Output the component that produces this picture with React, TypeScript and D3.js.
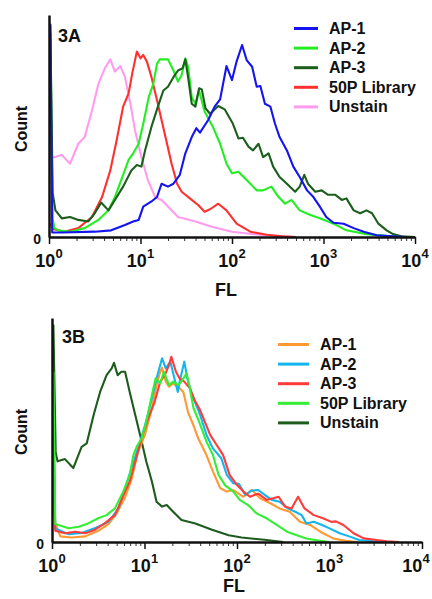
import React, { useEffect, useRef } from 'react';
import * as d3 from 'd3';

// every point is [log10(FL), count], count read on a 0-100 scale of the axis height
const decades = [0, 1, 2, 3, 4];
const legendNames = ['AP-1', 'AP-2', 'AP-3', '50P Library', 'Unstain'];

// ---- 3A ----
const aColors = ['#1414f0', '#22ee22', '#1c5e1c', '#ff3030', '#ff9cf0'];
const aAP1: [number, number][] = [
  [0.015, 96], [0.035, 2], [0.14, 2], [0.5, 2.4], [0.68, 3], [0.83, 5.4], [0.92, 7], [0.98, 7.7], [1.03, 13.7],
  [1.12, 16], [1.18, 18], [1.23, 24], [1.3, 22.7], [1.36, 24], [1.43, 28], [1.49, 37.7], [1.56, 45], [1.61, 49],
  [1.65, 47], [1.74, 52.7], [1.81, 58.7], [1.87, 62], [1.94, 77], [2.0, 70.7], [2.05, 79], [2.11, 86.5],
  [2.16, 79.7], [2.22, 76.7], [2.27, 67.7], [2.31, 68], [2.36, 60], [2.42, 58.7], [2.47, 51], [2.52, 45],
  [2.6, 39], [2.67, 31.7], [2.74, 27], [2.82, 21], [2.89, 18], [2.96, 13.7], [3.03, 9], [3.11, 6.4], [3.22, 6],
  [3.33, 4], [3.44, 2.4], [3.58, 0.8], [3.76, 0.3], [3.9, 0],
];
const aAP2: [number, number][] = [
  [0.015, 95], [0.04, 8], [0.06, 4], [0.1, 3], [0.23, 2.4], [0.39, 4], [0.54, 7.7], [0.65, 12], [0.72, 18],
  [0.79, 25.7], [0.87, 34.7], [0.92, 37.7], [0.98, 42], [1.03, 51], [1.09, 63], [1.14, 69], [1.18, 78], [1.21, 80],
  [1.3, 80], [1.36, 75], [1.41, 70], [1.45, 73], [1.49, 80.5], [1.52, 76.7], [1.56, 63], [1.6, 60], [1.64, 66],
  [1.7, 56.5], [1.79, 49.7], [1.87, 42], [1.94, 33], [2.0, 28.7], [2.07, 29.4], [2.16, 25.7], [2.27, 21],
  [2.34, 21], [2.43, 22.7], [2.51, 18], [2.58, 15], [2.65, 16.7], [2.74, 12], [2.85, 10], [2.96, 8.4], [3.11, 6],
  [3.25, 3], [3.47, 1.3], [3.69, 0.5], [3.9, 0],
];
const aAP3: [number, number][] = [
  [0.015, 92], [0.04, 20], [0.07, 12], [0.14, 8.4], [0.23, 9], [0.32, 7.7], [0.43, 7], [0.5, 10.7], [0.57, 15.5],
  [0.65, 12], [0.72, 16.7], [0.81, 22.7], [0.9, 30], [0.96, 32.4], [1.01, 31.7], [1.05, 39], [1.12, 49.7],
  [1.19, 58.7], [1.25, 66], [1.3, 67.7], [1.36, 72], [1.41, 75], [1.46, 76], [1.49, 80], [1.52, 72], [1.56, 60],
  [1.6, 58.7], [1.64, 67], [1.67, 66.5], [1.71, 58], [1.76, 55.5], [1.85, 59], [1.92, 57.5], [2.01, 51],
  [2.07, 44.4], [2.12, 44.7], [2.18, 40.7], [2.23, 39], [2.29, 42], [2.34, 36], [2.4, 37.7], [2.45, 31.7],
  [2.52, 27], [2.6, 24], [2.69, 20.4], [2.74, 22.7], [2.79, 28], [2.83, 24], [2.91, 20.4], [2.98, 21], [3.05, 19],
  [3.13, 19], [3.2, 16.7], [3.25, 17.4], [3.33, 12], [3.4, 10.7], [3.47, 12], [3.53, 10.7], [3.6, 6], [3.69, 3],
  [3.76, 1.3], [3.85, 0.3], [4.0, 0],
];
const a50P: [number, number][] = [
  [0.01, 6], [0.05, 3.5], [0.17, 2.4], [0.32, 4], [0.47, 9], [0.58, 18], [0.67, 30], [0.74, 43.7], [0.81, 58.7],
  [0.87, 64.7], [0.91, 73.7], [0.96, 83.5], [1.0, 80.5], [1.03, 82], [1.07, 79], [1.12, 72], [1.18, 61.7],
  [1.23, 52.7], [1.29, 42], [1.34, 33], [1.4, 24], [1.45, 20.4], [1.56, 16.7], [1.63, 14.4], [1.7, 11.4],
  [1.76, 12.5], [1.85, 15], [1.94, 12], [2.05, 6], [2.2, 2.4], [2.38, 1], [2.55, 0.3], [2.7, 0],
];
const aUnstain: [number, number][] = [
  [0.015, 60], [0.03, 36], [0.07, 36], [0.14, 37], [0.23, 33], [0.32, 42], [0.39, 45], [0.47, 57], [0.54, 69],
  [0.61, 76], [0.67, 80], [0.72, 74.5], [0.78, 77], [0.83, 72], [0.89, 60], [0.94, 48], [1.01, 36], [1.08, 25.7],
  [1.16, 18], [1.23, 16.7], [1.3, 13.7], [1.41, 9], [1.6, 7], [1.78, 4.6], [2.0, 2.4], [2.12, 1.8], [2.3, 1],
  [2.52, 0.4], [2.7, 0],
];

// ---- 3B ----
const bColors = ['#ff9933', '#13b6ec', '#ff3b3b', '#33ee33', '#1e5c1e'];
const bAP1: [number, number][] = [
  [0.015, 20], [0.03, 9], [0.09, 2.5], [0.21, 2], [0.36, 2.5], [0.5, 5], [0.61, 8], [0.7, 12.8], [0.79, 20],
  [0.86, 28], [0.93, 40.3], [1.005, 47.8], [1.08, 59.7], [1.13, 70], [1.17, 76], [1.19, 77.8], [1.23, 71.6],
  [1.265, 69.3], [1.31, 70.8], [1.365, 69.3], [1.42, 67], [1.47, 58], [1.53, 52], [1.58, 46.3], [1.67, 38.8],
  [1.74, 31.4], [1.82, 24], [1.89, 22.5], [1.96, 23.2], [2.07, 20.2], [2.16, 23.2], [2.25, 19.5], [2.36, 17.3],
  [2.46, 15], [2.57, 13.5], [2.68, 9], [2.79, 7.6], [2.9, 4.6], [3.04, 1.6], [3.18, 0.5], [3.3, 0],
];
const bAP2: [number, number][] = [
  [0.015, 50], [0.035, 6], [0.18, 3.5], [0.32, 4], [0.46, 6.1], [0.61, 9], [0.72, 15], [0.79, 24], [0.86, 33],
  [0.93, 41.8], [1.005, 52], [1.08, 64], [1.13, 73], [1.19, 82], [1.23, 77.5], [1.28, 80.5], [1.31, 75.3],
  [1.36, 67], [1.38, 71.6], [1.43, 80.5], [1.47, 71.6], [1.53, 64], [1.56, 61], [1.6, 57], [1.67, 47.8],
  [1.74, 41.8], [1.83, 37.4], [1.89, 30], [1.96, 26.2], [2.02, 26], [2.09, 21], [2.16, 23], [2.23, 23.2],
  [2.3, 21], [2.375, 18.8], [2.46, 18], [2.55, 15], [2.63, 13.5], [2.7, 12], [2.75, 8.3], [2.83, 9], [2.92, 7.6],
  [3.0, 6.1], [3.11, 3.9], [3.22, 2.4], [3.32, 0.9], [3.47, 0.3], [3.6, 0],
];
const bAP3: [number, number][] = [
  [0.015, 58], [0.035, 5], [0.14, 3.9], [0.25, 4.6], [0.36, 3.9], [0.46, 5.4], [0.57, 8.3], [0.68, 12],
  [0.79, 22.5], [0.84, 27], [0.9, 35.8], [0.97, 46.3], [1.04, 55.2], [1.11, 62.6], [1.17, 71.6], [1.22, 74.5],
  [1.265, 79], [1.29, 82.7], [1.34, 76], [1.38, 73], [1.43, 71.6], [1.49, 68.6], [1.55, 62.6], [1.6, 59],
  [1.71, 47.8], [1.78, 43.3], [1.85, 38.8], [1.92, 30], [2.0, 25.4], [2.07, 22.5], [2.14, 20.2], [2.23, 21.6],
  [2.32, 18.8], [2.39, 19.5], [2.45, 20.2], [2.52, 15.8], [2.59, 15], [2.66, 20.2], [2.73, 15], [2.83, 12],
  [2.93, 10.6], [3.02, 9], [3.07, 9.2], [3.15, 7.6], [3.26, 3.9], [3.37, 1.6], [3.51, 0.9], [3.62, 0.3], [3.75, 0],
];
const b50P: [number, number][] = [
  [0.015, 76], [0.035, 8], [0.18, 6.1], [0.29, 6.8], [0.39, 8.3], [0.5, 10.6], [0.59, 12], [0.68, 15],
  [0.77, 22.5], [0.84, 29.9], [0.88, 38.8], [0.915, 42.5], [0.97, 46.3], [1.02, 53.7], [1.08, 65.6], [1.12, 73],
  [1.17, 70.8], [1.21, 76], [1.265, 70], [1.31, 71.6], [1.365, 70], [1.41, 72.3], [1.455, 75.3], [1.49, 68.6],
  [1.53, 59.7], [1.59, 53.7], [1.67, 44.8], [1.74, 38.8], [1.8, 30], [1.87, 25.4], [1.96, 22.5], [2.03, 18.8],
  [2.12, 16.5], [2.21, 12.8], [2.32, 10.6], [2.43, 7.6], [2.54, 4.6], [2.64, 3.1], [2.75, 1.6], [2.9, 0.5], [3.0, 0],
];
const bUnstain: [number, number][] = [
  [0.015, 97], [0.04, 40], [0.06, 36], [0.14, 37], [0.23, 33], [0.32, 42.5], [0.375, 44], [0.45, 56.7],
  [0.52, 67], [0.59, 74.5], [0.645, 77.5], [0.67, 80], [0.71, 74.5], [0.75, 76], [0.79, 76], [0.84, 67],
  [0.9, 56.7], [0.97, 44.8], [1.02, 35.8], [1.08, 27], [1.13, 18], [1.19, 15.8], [1.24, 16.5], [1.31, 13.5],
  [1.4, 9.8], [1.55, 8.3], [1.73, 5.5], [1.91, 3], [2.05, 2], [2.32, 0.9], [2.5, 0],
];

const FONT = '"Liberation Sans", Arial, sans-serif';
const W = 432;

const panels = [
  {
    tag: '3A', colors: aColors, data: [aAP1, aAP2, aAP3, a50P, aUnstain], order: [4, 3, 1, 2, 0],
    left: 49, right: 415, top: 15, bottom: 237, tagX: 58, tagY: 42,
    legX: 294, legTextX: 329, legY: 28.5, flX: 226, flY: 296, countY: 129,
  },
  {
    tag: '3B', colors: bColors, data: [bAP1, bAP2, bAP3, b50P, bUnstain], order: [4, 0, 1, 2, 3],
    left: 52, right: 422, top: 318, bottom: 542, tagX: 62, tagY: 343,
    legX: 278, legTextX: 320, legY: 344.5, flX: 234, flY: 592, countY: 432,
  },
];

const App = () => {
  const svgRef = useRef<SVGSVGElement>(null);

  useEffect(() => {
    const svg = d3.select(svgRef.current);
    svg.selectAll('*').remove();

    panels.forEach(p => {
      const x = d3.scaleLog().domain([1, 1e4]).range([p.left, p.right]);
      const y = d3.scaleLinear().domain([0, 100]).range([p.bottom, p.top]);
      const g = svg.append('g');

      const line = d3.line<[number, number]>()
        .x(d => x(Math.pow(10, d[0])))
        .y(d => y(d[1]));

      p.order.forEach(i => {
        g.append('path')
          .datum(p.data[i])
          .attr('d', line)
          .attr('fill', 'none')
          .attr('stroke', p.colors[i])
          .attr('stroke-width', 2.1)
          .attr('stroke-linejoin', 'round');
      });

      // minor ticks 2..9 in each decade
      const minor: number[] = [];
      decades.slice(0, 4).forEach(k => {
        for (let m = 2; m <= 9; m++) minor.push(m * Math.pow(10, k));
      });
      const minorAxis = g.append('g')
        .attr('transform', `translate(0,${p.bottom})`)
        .call(d3.axisBottom(x).tickValues(minor).tickSize(4).tickSizeOuter(0).tickFormat(() => ''));
      minorAxis.select('.domain').remove();
      minorAxis.selectAll('line').attr('stroke', '#333').attr('stroke-width', 1);

      const majorAxis = g.append('g')
        .attr('transform', `translate(0,${p.bottom})`)
        .call(d3.axisBottom(x).tickValues(decades.map(d => Math.pow(10, d))).tickSize(7).tickSizeOuter(0).tickFormat(() => ''));
      majorAxis.select('.domain').attr('stroke', '#111').attr('stroke-width', 2.5);
      majorAxis.selectAll('line').attr('stroke', '#111').attr('stroke-width', 1.5);

      // decade labels 10^k, kept inside the page
      decades.forEach(d => {
        const t = g.append('text')
          .attr('x', Math.min(x(Math.pow(10, d)), W - 16))
          .attr('y', p.bottom + 30)
          .attr('text-anchor', 'middle')
          .attr('font-family', FONT)
          .attr('font-weight', 'bold')
          .attr('font-size', 18)
          .attr('fill', '#111');
        t.append('tspan').text('10');
        t.append('tspan').attr('dy', -9).attr('font-size', 13).text(d);
      });

      const yAxis = g.append('g')
        .attr('transform', `translate(${p.left},0)`)
        .call(d3.axisLeft(y).tickValues([0]).tickSize(0).tickSizeOuter(0).tickPadding(8));
      yAxis.select('.domain').attr('stroke', '#111').attr('stroke-width', 2.5);
      yAxis.selectAll('text')
        .attr('font-family', FONT)
        .attr('font-weight', 'bold')
        .attr('font-size', 14)
        .attr('fill', '#111')
        .attr('dy', '0.45em');

      g.append('text')
        .attr('x', p.tagX).attr('y', p.tagY)
        .attr('font-family', FONT).attr('font-weight', 'bold').attr('font-size', 18)
        .attr('fill', '#111')
        .text(p.tag);

      g.append('text')
        .attr('x', p.flX).attr('y', p.flY)
        .attr('text-anchor', 'middle')
        .attr('font-family', FONT).attr('font-weight', 'bold').attr('font-size', 18)
        .attr('fill', '#111')
        .text('FL');

      g.append('text')
        .attr('transform', `translate(27,${p.countY}) rotate(-90)`)
        .attr('text-anchor', 'middle')
        .attr('font-family', FONT).attr('font-weight', 'bold').attr('font-size', 16)
        .attr('fill', '#111')
        .text('Count');

      // legend
      legendNames.forEach((name, i) => {
        const ly = p.legY + i * 19.6;
        g.append('line')
          .attr('x1', p.legX).attr('x2', p.legTextX - 11)
          .attr('y1', ly).attr('y2', ly)
          .attr('stroke', p.colors[i]).attr('stroke-width', 3);
        g.append('text')
          .attr('x', p.legTextX).attr('y', ly + 5.5)
          .attr('font-family', FONT).attr('font-weight', 'bold').attr('font-size', 16)
          .attr('fill', '#111')
          .text(name);
      });
    });
  }, []);

  return (
    <svg
      ref={svgRef}
      width={432}
      height={599}
      style={{ position: 'absolute', left: 0, top: 0, background: '#fff' }}
    />
  );
};

export default App;
